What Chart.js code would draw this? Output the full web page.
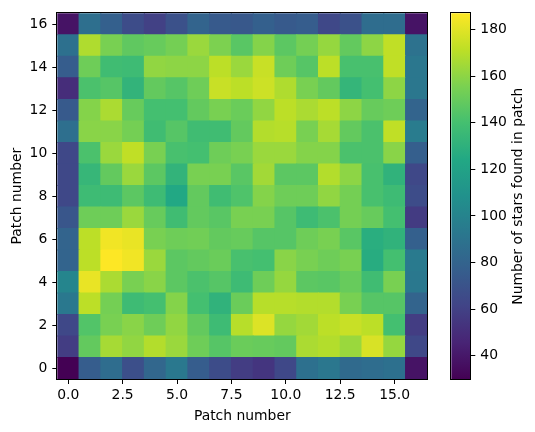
<!DOCTYPE html>
<html>
<head>
<meta charset="utf-8">
<script src="https://cdn.jsdelivr.net/npm/chart.js@4"></script>
<style>
  body { margin: 0; background: #fff; }
  #wrap { position: relative; width: 535px; height: 432px; }
  #heat { position: absolute; left: 0; top: 0; }
  #cbar { position: absolute; left: 430px; top: 0; }
</style>
</head>
<body>
<div id="wrap">
  <canvas id="heat" width="535" height="432"></canvas>
  <canvas id="cbar" width="105" height="432"></canvas>
</div>
<script>
const patchNumbers = [0,1,2,3,4,5,6,7,8,9,10,11,12,13,14,15,16];
const xTicks = [0, 2.5, 5, 7.5, 10, 12.5, 15];
const yTicks = [0, 2, 4, 6, 8, 10, 12, 14, 16];
const colorbarTicks = [40, 60, 80, 100, 120, 140, 160, 180];

// star counts per patch, row 0 (bottom) first
const starCounts = [
  [30, 76, 86, 68, 82, 93, 76, 66, 58, 54, 64, 88, 92, 84, 86, 88, 38],
  [58, 149, 166, 161, 169, 163, 152, 145, 151, 150, 149, 167, 169, 163, 178, 162, 64],
  [64, 144, 155, 159, 152, 161, 149, 137, 170, 179, 162, 165, 171, 174, 171, 140, 58],
  [93, 171, 154, 137, 140, 158, 140, 131, 151, 170, 170, 169, 169, 155, 145, 145, 80],
  [101, 182, 167, 155, 159, 147, 142, 145, 137, 152, 162, 147, 146, 150, 138, 155, 93],
  [80, 171, 187, 184, 163, 147, 149, 151, 141, 140, 159, 155, 152, 155, 127, 140, 94],
  [80, 171, 184, 182, 155, 152, 153, 149, 150, 145, 145, 152, 155, 146, 128, 131, 78],
  [72, 152, 152, 163, 150, 138, 149, 146, 155, 155, 145, 137, 142, 154, 150, 140, 57],
  [64, 137, 137, 147, 137, 124, 149, 138, 143, 158, 152, 152, 161, 154, 141, 137, 66],
  [64, 134, 149, 163, 147, 132, 155, 155, 146, 165, 147, 147, 169, 160, 141, 131, 64],
  [64, 142, 163, 172, 155, 141, 140, 152, 155, 163, 163, 158, 158, 142, 142, 159, 77],
  [87, 159, 159, 154, 138, 145, 138, 138, 149, 169, 170, 155, 166, 149, 142, 172, 95],
  [74, 158, 167, 150, 140, 140, 149, 155, 151, 161, 171, 167, 171, 160, 150, 152, 80],
  [50, 142, 145, 132, 149, 145, 152, 174, 171, 175, 168, 155, 149, 133, 140, 160, 92],
  [76, 152, 138, 137, 161, 160, 160, 171, 163, 174, 152, 145, 171, 141, 141, 172, 92],
  [88, 168, 155, 148, 150, 154, 163, 156, 146, 158, 147, 154, 162, 149, 160, 172, 89],
  [38, 87, 78, 66, 60, 69, 80, 74, 73, 78, 74, 76, 64, 69, 86, 86, 38]
];

const FONT = { family: 'DejaVu Sans', size: 13.9 };

const viridisStops = ['#440154','#482475','#414487','#355f8d','#2a788e','#21918c',
                      '#22a884','#44bf70','#7ad151','#bddf26','#fde725'];

function hexToRgb(h){
  return [1,3,5].map(i => parseInt(h.substr(i,2),16));
}
const stopRgb = viridisStops.map(hexToRgb);

function viridis(t){
  t = Math.min(1, Math.max(0, t));
  const f = t * (stopRgb.length - 1);
  const i = Math.min(stopRgb.length - 2, Math.floor(f));
  const k = f - i;
  const a = stopRgb[i], b = stopRgb[i+1];
  const c = a.map((v, j) => Math.round(v + (b[j] - v) * k));
  return `rgb(${c[0]},${c[1]},${c[2]})`;
}

const allValues = starCounts.flat();
const vmin = Math.min(...allValues);
const vmax = Math.max(...allValues);

const frame = {
  id: 'frame',
  afterDraw(chart){
    const {ctx, chartArea: a} = chart;
    ctx.save();
    ctx.strokeStyle = '#000';
    ctx.lineWidth = 1;
    ctx.strokeRect(Math.round(a.left) - 0.5, Math.round(a.top) - 0.5,
                   Math.round(a.right - a.left) + 1, Math.round(a.bottom - a.top) + 1);
    ctx.restore();
  }
};

const datasets = starCounts.map((row, r) => ({
  data: row.map((v, c) => ({ x: patchNumbers[c], y: [patchNumbers[r] - 0.5, patchNumbers[r] + 0.5] })),
  backgroundColor: row.map(v => viridis((v - vmin) / (vmax - vmin))),
  borderWidth: 0,
  inflateAmount: 0.5,
  grouped: false,
  barPercentage: 1,
  categoryPercentage: 1
}));

new Chart(document.getElementById('heat'), {
  type: 'bar',
  data: { datasets },
  options: {
    responsive: false,
    animation: false,
    layout: { padding: { top: 9, right: 107.7, left: 0, bottom: 0 } },
    plugins: { legend: { display: false }, tooltip: { enabled: false } },
    scales: {
      x: {
        type: 'linear',
        offset: false,
        min: -0.5,
        max: 16.5,
        afterBuildTicks: s => { s.ticks = xTicks.map(value => ({ value })); },
        afterFit: s => { s.height = 53; },
        ticks: { color: '#000', font: FONT, padding: 3, maxRotation: 0,
                 callback: v => v.toFixed(1) },
        grid: { offset: false, drawOnChartArea: false, tickLength: 5, tickColor: '#000' },
        border: { display: false },
        title: { display: true, text: 'Patch number', color: '#000', font: FONT,
                 padding: { top: 0, bottom: 7 } }
      },
      y: {
        type: 'linear',
        min: -0.5,
        max: 16.5,
        afterBuildTicks: s => { s.ticks = yTicks.map(value => ({ value })); },
        afterFit: s => { s.width = 57.3; },
        ticks: { color: '#000', font: FONT, padding: 5 },
        grid: { offset: false, drawOnChartArea: false, tickLength: 5, tickColor: '#000' },
        border: { display: false },
        title: { display: true, text: 'Patch number', color: '#000', font: FONT,
                 padding: { top: 9, bottom: 0 } }
      }
    }
  },
  plugins: [frame]
});

const cbarLabel = {
  id: 'cbarLabel',
  afterDraw(chart){
    const {ctx, chartArea: a} = chart;
    ctx.save();
    ctx.translate(88.3, (a.top + a.bottom) / 2);
    ctx.rotate(-Math.PI / 2);
    ctx.font = `${FONT.size}px ${FONT.family}`;
    ctx.fillStyle = '#000';
    ctx.textAlign = 'center';
    ctx.textBaseline = 'middle';
    ctx.fillText('Number of stars found in patch', 0, 0);
    ctx.restore();
  }
};

new Chart(document.getElementById('cbar'), {
  type: 'bar',
  data: {
    labels: [''],
    datasets: [{
      data: [[vmin, vmax]],
      borderWidth: 0,
      barPercentage: 1,
      categoryPercentage: 1,
      backgroundColor: ctx => {
        const a = ctx.chart.chartArea;
        if (!a) return '#21918c';
        const g = ctx.chart.ctx.createLinearGradient(0, a.bottom, 0, a.top);
        viridisStops.forEach((c, i) => g.addColorStop(i / (viridisStops.length - 1), c));
        return g;
      }
    }]
  },
  options: {
    responsive: false,
    animation: false,
    layout: { padding: { top: 9.3, right: 0, left: 21.3, bottom: 53 } },
    plugins: { legend: { display: false }, tooltip: { enabled: false } },
    scales: {
      x: { display: false },
      y: {
        position: 'right',
        min: vmin,
        max: vmax,
        afterBuildTicks: s => { s.ticks = colorbarTicks.map(value => ({ value })); },
        afterFit: s => { s.width = 64.7; },
        ticks: { color: '#000', font: FONT, padding: 5 },
        grid: { drawOnChartArea: false, tickLength: 5, tickColor: '#000' },
        border: { display: false }
      }
    }
  },
  plugins: [frame, cbarLabel]
});
</script>
</body>
</html>
